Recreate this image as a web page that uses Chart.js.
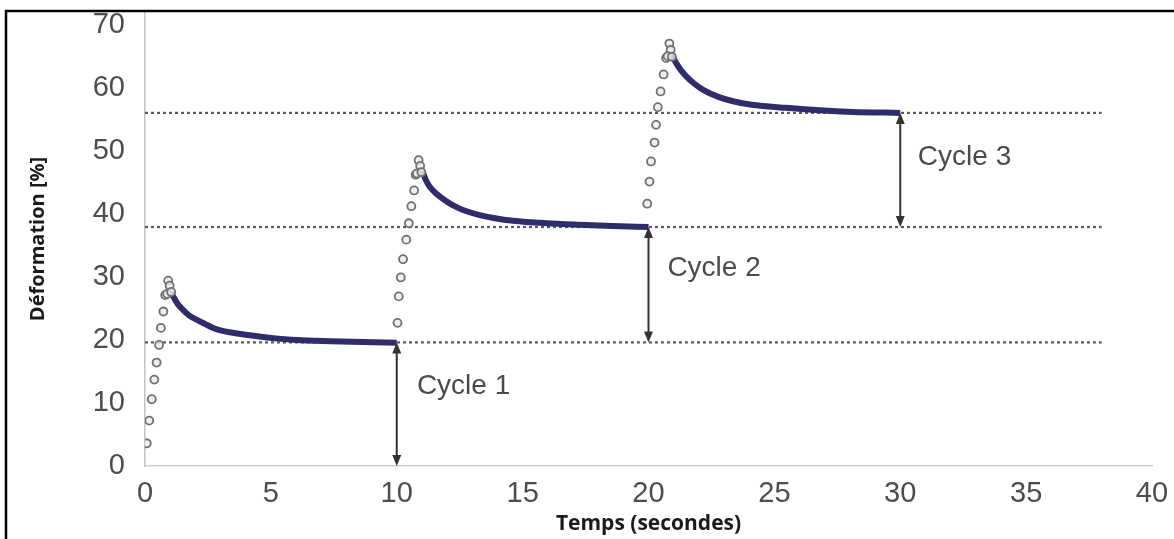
<!DOCTYPE html>
<html><head><meta charset="utf-8">
<script src="https://cdn.jsdelivr.net/npm/chart.js@4.4.0/dist/chart.umd.min.js"></script>
<style>html,body{margin:0;padding:0;background:#fff;overflow:hidden}#wrap{position:relative;width:1174px;height:539px}</style>
</head><body><div id="wrap"><canvas id="c" width="1174" height="539"></canvas></div>
<script>
// ---- data ----
const xTicks = [0, 5, 10, 15, 20, 25, 30, 35, 40];
const yTicks = [0, 10, 20, 30, 40, 50, 60, 70];

const load1Time   = [0.07, 0.17, 0.27, 0.37, 0.46, 0.56, 0.63, 0.73, 0.80, 0.92, 0.98, 0.88, 1.04];
const load1Strain = [3.6, 7.2, 10.6, 13.7, 16.4, 19.2, 21.9, 24.5, 27.1, 29.4, 28.6, 27.3, 27.6];
const load2Time   = [10.03, 10.08, 10.16, 10.25, 10.38, 10.48, 10.58, 10.69, 10.75, 10.87, 10.93, 10.80, 10.98];
const load2Strain = [22.7, 26.9, 29.9, 32.8, 35.9, 38.5, 41.2, 43.7, 46.2, 48.5, 47.6, 46.4, 46.6];
const load3Time   = [19.95, 20.04, 20.10, 20.24, 20.30, 20.37, 20.48, 20.60, 20.70, 20.83, 20.88, 20.76, 20.93];
const load3Strain = [41.6, 45.1, 48.3, 51.3, 54.1, 56.9, 59.4, 62.1, 64.7, 67.0, 66.0, 65.0, 64.9];

const relax1Time   = [1.04, 1.12, 1.3, 1.5, 1.75, 2.05, 2.4, 2.71, 3.0, 3.37, 4.0, 4.69, 5.3, 6.02, 7.34, 8.66, 10.0];
const relax1Strain = [27.6, 26.9, 25.7, 24.8, 23.9, 23.2, 22.5, 21.9, 21.5, 21.2, 20.8, 20.45, 20.2, 20.0, 19.8, 19.65, 19.55];
const relax2Time   = [11.0, 11.04, 11.15, 11.31, 11.6, 11.97, 12.3, 12.63, 13.29, 13.9, 14.62, 15.94, 17.26, 18.58, 20.0];
const relax2Strain = [46.7, 46.5, 45.4, 44.3, 43.1, 42.0, 41.2, 40.6, 39.8, 39.3, 38.9, 38.5, 38.25, 38.05, 37.9];
const relax3Time   = [20.9, 21.1, 21.3, 21.5, 21.8, 22.15, 22.8, 23.4, 24.1, 25.46, 26.8, 28.1, 30.0];
const relax3Strain = [65.3, 63.9, 62.7, 61.8, 60.7, 59.7, 58.5, 57.8, 57.3, 56.8, 56.4, 56.15, 56.0];

const refLevels = [19.6, 37.9, 56.0];
const refStart = 0, refEnd = 38;

const arrowTime = [10, 20, 30];
const arrowFrom = [0, 19.6, 37.9];
const arrowTo   = [19.6, 37.9, 56.0];

const cycleLabels = ['Cycle 1', 'Cycle 2', 'Cycle 3'];
const labelTime   = [10.8, 20.75, 30.7];
const labelStrain = [12.7, 31.3, 49.0];

// ---- build ----
const pts = (xs, ys) => xs.map((x, i) => ({x, y: ys[i]}));
const CURVE = '#2f2c6a';
const datasets = [];
[[load1Time, load1Strain], [load2Time, load2Strain], [load3Time, load3Strain]].forEach(([t, s]) => {
  datasets.push({data: pts(t, s), showLine: false, pointStyle: 'circle', pointRadius: 4,
    pointBorderColor: '#707070', pointBackgroundColor: 'rgba(235,235,235,0.8)', pointBorderWidth: 1.8, order: 0});
});
[[relax1Time, relax1Strain], [relax2Time, relax2Strain], [relax3Time, relax3Strain]].forEach(([t, s]) => {
  datasets.push({data: pts(t, s), showLine: true, borderColor: CURVE, borderWidth: 6, pointRadius: 0,
    cubicInterpolationMode: 'monotone', borderCapStyle: 'butt', order: 1});
});
refLevels.forEach(l => {
  datasets.push({data: [{x: refStart, y: l}, {x: refEnd, y: l}], showLine: true, borderColor: '#5a5a5a',
    borderWidth: 2.2, borderDash: [3, 3], pointRadius: 0, order: 2});
});

const overlay = {
  id: 'overlay',
  afterDatasetsDraw(chart) {
    const {ctx, scales: {x, y}} = chart;
    ctx.save();
    ctx.strokeStyle = '#333'; ctx.fillStyle = '#333'; ctx.lineWidth = 2;
    arrowTime.forEach((t, i) => {
      const px = x.getPixelForValue(t);
      const yb = y.getPixelForValue(arrowFrom[i]);
      const yt = y.getPixelForValue(arrowTo[i]);
      ctx.beginPath(); ctx.moveTo(px, yb - 8); ctx.lineTo(px, yt + 8); ctx.stroke();
      ctx.beginPath(); ctx.moveTo(px, yt); ctx.lineTo(px - 4.5, yt + 11); ctx.lineTo(px + 4.5, yt + 11); ctx.closePath(); ctx.fill();
      ctx.beginPath(); ctx.moveTo(px, yb); ctx.lineTo(px - 4.5, yb - 11); ctx.lineTo(px + 4.5, yb - 11); ctx.closePath(); ctx.fill();
    });
    ctx.font = '28px "Liberation Sans"'; ctx.fillStyle = '#4a4a4a';
    ctx.textAlign = 'left'; ctx.textBaseline = 'middle';
    cycleLabels.forEach((s, i) => ctx.fillText(s, x.getPixelForValue(labelTime[i]), y.getPixelForValue(labelStrain[i])));
    // frame
    ctx.strokeStyle = '#000'; ctx.lineWidth = 2.5;
    ctx.beginPath(); ctx.moveTo(6, 541); ctx.lineTo(6, 11); ctx.lineTo(1176, 11); ctx.stroke();
    ctx.restore();
  }
};

new Chart(document.getElementById('c'), {
  type: 'scatter',
  data: {datasets},
  options: {
    responsive: false, animation: false, devicePixelRatio: 1,
    layout: {padding: {top: 12, right: 22, left: 0, bottom: 0}},
    plugins: {legend: {display: false}, tooltip: {enabled: false}},
    scales: {
      x: {
        type: 'linear', min: 0, max: 40,
        afterBuildTicks: s => { s.ticks = xTicks.map(v => ({value: v})); },
        afterFit: s => { s.height = 73; s.paddingLeft = 0; s.paddingRight = 0; },
        grid: {display: false, drawTicks: false},
        border: {display: true, color: '#cfcfcf', width: 1.5},
        ticks: {font: {family: 'Liberation Sans', size: 29}, color: '#4d4d4d', padding: 11, maxRotation: 0, autoSkip: false},
        title: {display: true, text: 'Temps (secondes)', font: {family: 'Open Sans', size: 21, weight: 'bold'}, color: '#1a1a1a', padding: {top: 0, bottom: 2}}
      },
      y: {
        type: 'linear', min: 0, max: 72,
        afterBuildTicks: s => { s.ticks = yTicks.map(v => ({value: v})); },
        afterFit: s => { s.width = 145; s.paddingTop = 0; s.paddingBottom = 0; },
        grid: {display: false, drawTicks: false},
        border: {display: true, color: '#c4c4c4', width: 1.5},
        ticks: {font: {family: 'Liberation Sans', size: 29}, color: '#4d4d4d', padding: 20, autoSkip: false},
        title: {display: true, text: 'Déformation [%]', font: {family: 'Open Sans', size: 20, weight: 'bold'}, color: '#1a1a1a', padding: {top: 26, bottom: 0}}
      }
    }
  },
  plugins: [overlay]
});
</script></body></html>
